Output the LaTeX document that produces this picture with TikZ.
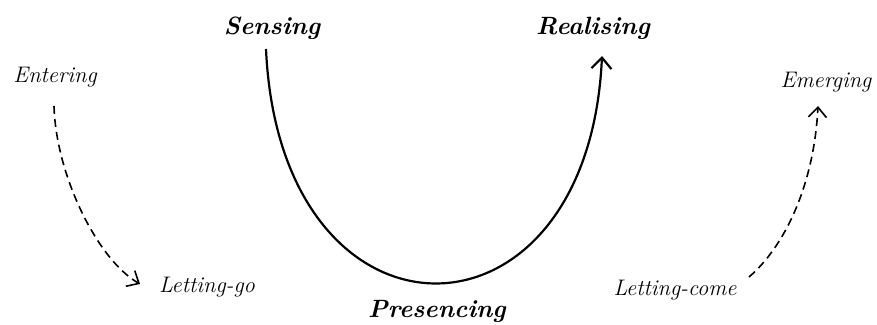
\documentclass[tikz,border=0pt]{standalone}
\usepackage{tikz}
\usetikzlibrary{arrows.meta}

\begin{document}
\begin{tikzpicture}[
    x=1pt, y=1pt,
    stage/.style={font=\fontsize{25}{29}\selectfont\bfseries\itshape, anchor=base},
    side/.style={font=\fontsize{22.5}{27}\selectfont\itshape, anchor=base},
    flow/.style={-{Straight Barb[length=11pt, width=20pt]}, line width=2.2pt},
    passage/.style={-{Straight Barb[length=10pt, width=18pt]}, line width=1.6pt, dash pattern=on 8pt off 5pt}
  ]
    \useasboundingbox (0,0) rectangle (877,324);
    % U-process
    \node[stage] (sens) at (272,289) {Sensing};
    \node[stage] (real) at (593,289) {Realising};
    \node[stage] (pres) at (437,7) {Presencing};
    % side steps
    \node[side] (ent) at (55,241) {Entering};
    \node[side] (lgo) at (207,32) {Letting-go};
    \node[side] (lcome) at (675,29) {Letting-come};
    \node[side] (emer) at (826,236) {Emerging};
    \draw[flow] ([shift={(-6pt,-14pt)}]sens.base) .. controls +(14,-311) and +(-14,-304) .. ([shift={(9pt,-21pt)}]real.base);
    \draw[passage] ([shift={(-1pt,-23pt)}]ent.base) .. controls +(2,-70) and +(-42,24) .. ([shift={(-67pt,8pt)}]lgo.base);
    \draw[passage] ([shift={(74pt,18pt)}]lcome.base) .. controls +(35,30) and +(-4,-80) .. ([shift={(-8pt,-18pt)}]emer.base);
\end{tikzpicture}
\end{document}
